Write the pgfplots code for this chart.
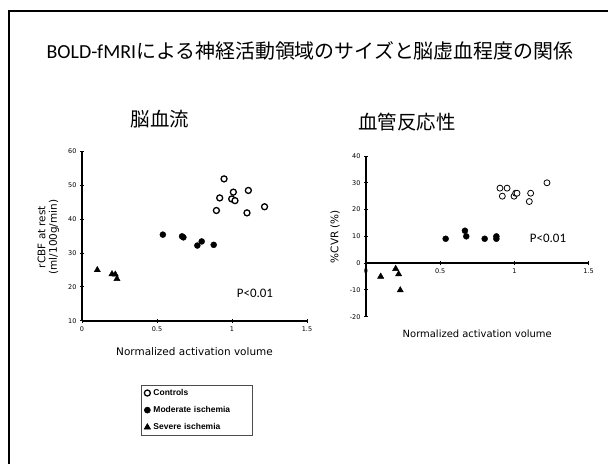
\documentclass[border=0pt]{standalone}
\usepackage{fontspec}
\usepackage{pgfplots}
\pgfplotsset{compat=1.18}
\setmainfont{DejaVu Sans}
\newfontfamily\cjkfont{Noto Sans CJK JP}
\newfontfamily\calfont{Carlito}
\newfontfamily\libfont{Liberation Sans}
\begin{document}
\begin{tikzpicture}
\useasboundingbox (0bp,0bp) rectangle (608bp,464bp);
\draw[line width=2bp] (9bp,-10bp) -- (9bp,453bp) -- (620bp,453bp);
\node[font=\fontsize{20}{22}\selectfont] at (310bp,413bp) {{\calfont BOLD-fMRI}{\cjkfont による神経活動領域のサイズと脳虚血程度の関係}};
\node[font=\cjkfont\fontsize{19.5}{22}\selectfont] at (160bp,345bp) {脳血流};
\node[font=\cjkfont\fontsize{19.5}{22}\selectfont] at (407bp,342bp) {血管反応性};

\pgfplotsset{
  myax/.style={
    scale only axis,
    axis line style={line width=1.6bp},
    tick style={black, line width=1bp},
    major tick length=4bp,
    tick align=inside,
    xmin=0, xmax=1.5,
    xtick={0,0.5,1,1.5},
    xticklabels={0,0.5,1,1.5},
    tick label style={font=\fontsize{6.5}{7}\selectfont},
    /pgf/number format/assume math mode=true,
    label style={font=\fontsize{10.5}{11.5}\selectfont},
    clip=false,
  },
  ctrl/.style={only marks, mark=*, mark size=3bp, mark options={fill=white, draw=black, line width=0.8bp}},
  mod/.style={only marks, mark=*, mark size=3bp, mark options={fill=black, draw=black}},
  sev/.style={only marks, mark=triangle*, mark size=3.6bp, mark options={fill=black, draw=black}},
}

\begin{axis}[myax,
  at={(82bp,143bp)}, anchor=south west,
  width=225bp, height=170bp,
  ymin=10, ymax=60, ytick={10,20,30,40,50,60},
  axis x line=bottom, axis y line=left,
  x axis line style={-}, y axis line style={-},
  xlabel={Normalized activation volume},
  xlabel style={at={(axis description cs:0.5,-0.18)}, anchor=center},
  ylabel={rCBF at rest\\(ml/100g/min)},
  ylabel style={align=center, at={(axis description cs:-0.15,0.494)}, anchor=center},
  legend image code/.code={\draw[mark repeat=2,mark phase=2,#1] plot coordinates {(0bp,0bp) (4bp,0bp) (8bp,0bp)};},
  legend style={at={(axis description cs:0.262,-0.376)}, anchor=north west,
    draw=black!70, line width=0.6bp, font=\libfont\bfseries\fontsize{8.5}{10}\selectfont,
    row sep=5.5bp, inner xsep=3bp, inner ysep=2bp,
    /tikz/every odd column/.append style={column sep=1bp},
    /tikz/every even column/.append style={text width=94bp, align=left}},
  legend cell align=left,
]
\addplot[ctrl, mark options={fill=white, draw=black, line width=1.3bp}] coordinates {(0.947,51.8)(0.918,46.2)(0.896,42.5)(0.998,45.9)(1.009,47.9)(1.02,45.4)(1.109,48.4)(1.10,41.8)(1.217,43.6)};
\addlegendentry{Controls}
\addplot[mod] coordinates {(0.539,35.4)(0.667,34.9)(0.676,34.6)(0.769,32.2)(0.798,33.4)(0.878,32.4)};
\addlegendentry{Moderate ischemia}
\addplot[sev] coordinates {(0.102,25.0)(0.2,23.8)(0.222,23.7)(0.233,22.4)};
\addlegendentry{Severe ischemia}
\node[font=\calfont\fontsize{13}{15}\selectfont] at (axis cs:1.153,18.2) {P<0.01};
\end{axis}

\begin{axis}[myax,
  at={(366bp,147.3bp)}, anchor=south west,
  width=222.5bp, height=160.7bp,
  ymin=-20, ymax=40, ytick={-20,-10,0,10,20,30,40},
  axis x line=middle, axis y line=left,
  x axis line style={-}, y axis line style={-},
  hide obscured x ticks=false, hide obscured y ticks=false,
  xlabel={Normalized activation volume},
  xlabel style={at={(axis description cs:0.5,-0.108)}, anchor=center},
  ylabel={\%CVR (\%)},
  ylabel style={at={(axis description cs:-0.139,0.498)}, anchor=center},
]
\addplot[ctrl] coordinates {(0.903,28)(0.919,25)(0.951,28)(0.998,25)(1.009,26.1)(1.018,26.1)(1.101,23)(1.11,26.1)(1.22,30)};
\addplot[mod] coordinates {(0.537,9.1)(0.667,12.1)(0.676,10)(0.8,9.1)(0.879,10)(0.879,9.1)};
\addplot[sev] coordinates {(0.099,-5)(0.2,-2.1)(0.22,-4.1)(0.231,-10.1)};
\node[font=\calfont\fontsize{13}{15}\selectfont] at (axis cs:1.227,9.1) {P<0.01};
\end{axis}
\end{tikzpicture}
\end{document}
